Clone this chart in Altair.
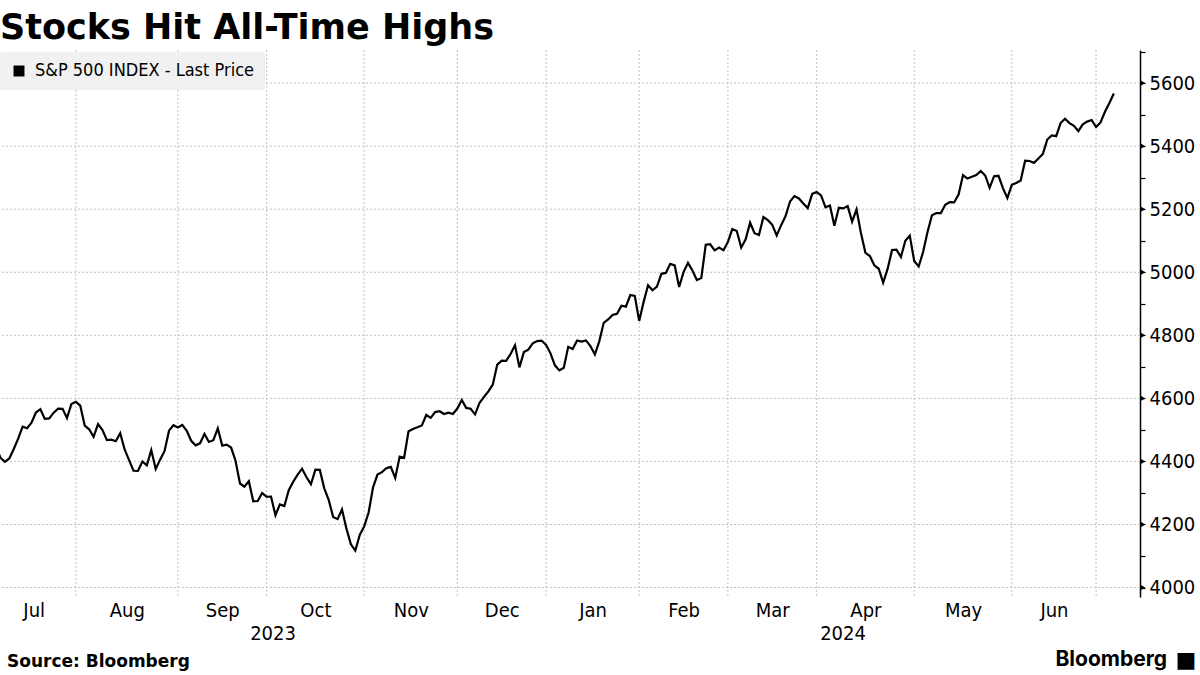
import altair as alt
import pandas as pd

# ---- data (S&P 500 daily closes, trading days only) ----
month_names = ["Jul", "Aug", "Sep", "Oct", "Nov", "Dec", "Jan", "Feb", "Mar", "Apr", "May", "Jun", "Jul"]
month_years = [2023, 2023, 2023, 2023, 2023, 2023, 2024, 2024, 2024, 2024, 2024, 2024, 2024]

close_2023_07 = [4446.82, 4411.59, 4398.95, 4409.53, 4439.26, 4472.16, 4510.04, 4505.42, 4522.79, 4554.98,
                 4565.72, 4534.87, 4536.34, 4554.64, 4567.46, 4566.75, 4537.41, 4582.23, 4588.96]
close_2023_08 = [4576.73, 4513.39, 4501.89, 4478.03, 4518.44, 4499.38, 4467.71, 4468.83, 4464.05, 4489.72,
                 4437.86, 4404.33, 4370.36, 4369.71, 4399.77, 4387.55, 4436.01, 4376.31, 4405.71, 4433.31,
                 4497.63, 4514.87, 4507.66]
close_2023_09 = [4515.77, 4496.83, 4465.48, 4451.14, 4457.49, 4487.46, 4461.90, 4467.44, 4505.10, 4450.32,
                 4453.53, 4443.95, 4402.20, 4330.00, 4320.06, 4337.44, 4273.53, 4274.51, 4299.70, 4288.05]
close_2023_10 = [4288.39, 4229.45, 4263.75, 4258.19, 4308.50, 4335.66, 4358.24, 4376.95, 4349.61, 4327.78,
                 4373.63, 4373.20, 4314.60, 4278.00, 4224.16, 4217.04, 4247.68, 4186.77, 4137.23, 4117.37,
                 4166.82, 4193.80]
close_2023_11 = [4237.86, 4317.78, 4358.34, 4365.98, 4378.38, 4382.78, 4347.35, 4415.24, 4411.55, 4495.70,
                 4502.88, 4508.24, 4514.02, 4547.38, 4538.19, 4556.62, 4559.34, 4550.43, 4554.89, 4550.58,
                 4567.80]
close_2023_12 = [4594.63, 4569.78, 4567.18, 4549.34, 4585.59, 4604.37, 4622.44, 4643.70, 4707.09, 4719.55,
                 4719.19, 4740.56, 4768.37, 4698.35, 4746.75, 4754.63, 4774.75, 4781.58, 4783.35, 4769.83]
close_2024_01 = [4742.83, 4704.81, 4688.68, 4697.24, 4763.54, 4756.50, 4783.45, 4780.24, 4783.83, 4765.98,
                 4739.21, 4780.94, 4839.81, 4850.43, 4864.60, 4868.55, 4894.16, 4890.97, 4927.93, 4924.97,
                 4845.65]
close_2024_02 = [4906.19, 4958.61, 4942.81, 4954.23, 4995.06, 4997.91, 5026.61, 5021.84, 4953.17, 5000.62,
                 5029.73, 5005.57, 4975.51, 4981.80, 5087.03, 5088.80, 5069.53, 5078.18, 5069.76, 5096.27]
close_2024_03 = [5137.08, 5130.95, 5078.65, 5104.76, 5157.36, 5123.69, 5117.94, 5175.27, 5165.31, 5150.48,
                 5117.09, 5149.42, 5178.51, 5224.62, 5241.53, 5234.18, 5218.19, 5203.58, 5248.49, 5254.35]
close_2024_04 = [5243.77, 5205.81, 5211.49, 5147.21, 5204.34, 5202.39, 5209.91, 5160.64, 5199.06, 5123.41,
                 5061.82, 5051.41, 5022.21, 5011.12, 4967.23, 5010.60, 5070.55, 5071.63, 5048.42, 5099.96,
                 5116.17, 5035.69]
close_2024_05 = [5018.39, 5064.20, 5127.79, 5180.74, 5187.70, 5187.67, 5214.08, 5222.68, 5221.42, 5246.68,
                 5308.15, 5297.10, 5303.27, 5308.13, 5321.41, 5307.01, 5267.84, 5304.72, 5306.04, 5266.95,
                 5235.48, 5277.51]
close_2024_06 = [5283.40, 5291.34, 5354.03, 5352.96, 5346.99, 5360.79, 5375.32, 5421.03, 5433.74, 5431.60,
                 5473.23, 5487.03, 5473.17, 5464.62, 5447.87, 5469.30, 5477.90, 5482.87, 5460.48]
close_2024_07 = [5475.09, 5509.01, 5537.02, 5567.19]

monthly_closes = [close_2023_07, close_2023_08, close_2023_09, close_2023_10, close_2023_11, close_2023_12,
                  close_2024_01, close_2024_02, close_2024_03, close_2024_04, close_2024_05, close_2024_06,
                  close_2024_07]

series_name = "S&P 500 INDEX - Last Price"
y_ticks = [4000, 4100, 4200, 4300, 4400, 4500, 4600, 4700, 4800, 4900, 5000, 5100, 5200, 5300, 5400, 5500, 5600, 5700]
y_grid = [4000, 4200, 4400, 4600, 4800, 5000, 5200, 5400, 5600]
year_names = ["2023", "2024"]

# ---- build tables (trading-day index axis, as Bloomberg does) ----
rows, months = [], []
idx = 0
for name, yr, vals in zip(month_names, month_years, monthly_closes):
    first = idx
    for v in vals:
        rows.append({"i": idx, "close": v, "series": series_name})
        idx += 1
    months.append({"name": name, "year": yr, "first": first, "last": idx - 1})
df = pd.DataFrame(rows)

X_MIN, X_MAX = 0.9, 257.9
boundaries = pd.DataFrame({"i": [m["last"] for m in months[:-1]]})
label_pos = [(m["first"] - 1 + m["last"]) / 2 for m in months[:-1]]
label_expr = " : ".join(f"datum.value == {p} ? '{m['name']}'" for p, m in zip(label_pos, months[:-1])) + " : ''"

end_2023 = max(m["last"] for m in months if m["year"] == 2023)
years_df = pd.DataFrame({"pos": [(X_MIN + end_2023) / 2, (end_2023 + X_MAX) / 2], "year": year_names})

W, H = 1140, 547
LABEL_FONT = "DejaVu Sans Condensed"
xscale = alt.Scale(domain=[X_MIN, X_MAX], nice=False, zero=False)
yscale = alt.Scale(domain=[3970, 5705], nice=False, zero=False)

xaxis = alt.Axis(
    values=label_pos, labelExpr=label_expr, grid=False, ticks=False, domain=False,
    labelFont=LABEL_FONT, labelFontSize=20, labelColor="black", labelPadding=3,
    labelFlush=False, labelOverlap=False, title=None)
yaxis = alt.Axis(
    orient="right", values=y_ticks, format="d",
    labelExpr="datum.value % 200 == 0 && datum.value < 5700 ? datum.label : ''",
    grid=False, domainColor="black", domainWidth=1.5, tickColor="black", tickSize=5,
    tickWidth=1.2, labelFont=LABEL_FONT, labelFontSize=20, labelColor="black",
    labelPadding=4, labelBaseline="middle", title=None)

hgrid = alt.Chart(pd.DataFrame({"v": y_grid})).mark_rule(
    color="#c2c2c2", strokeDash=[2, 2], strokeWidth=1
).encode(y=alt.Y("v:Q", scale=yscale, axis=yaxis))

vgrid = alt.Chart(boundaries).mark_rule(
    color="#c2c2c2", strokeDash=[2, 2], strokeWidth=1
).encode(x=alt.X("i:Q", scale=xscale, axis=xaxis))

markers = alt.Chart(pd.DataFrame({"v": y_grid})).mark_point(
    shape="triangle-right", filled=True, size=28, color="black", opacity=1
).encode(y=alt.Y("v:Q", scale=yscale, axis=yaxis), x=alt.value(W + 3))

line = alt.Chart(df).mark_line(color="black", strokeWidth=2.2, clip=True).encode(
    x=alt.X("i:Q", scale=xscale, axis=xaxis),
    y=alt.Y("close:Q", scale=yscale, axis=yaxis),
    color=alt.Color("series:N", scale=alt.Scale(range=["black"]), legend=alt.Legend(
        title=None, orient="none", legendX=0, legendY=2, fillColor="#f1f1f1", padding=10,
        cornerRadius=2, symbolType="square", symbolSize=120, symbolFillColor="black",
        symbolStrokeColor="black", symbolStrokeWidth=0, labelFont=LABEL_FONT,
        labelFontSize=18, labelColor="black", labelOffset=7, labelLimit=1000)),
)

years = alt.Chart(years_df).mark_text(
    font=LABEL_FONT, fontSize=20, color="black", baseline="middle", align="center"
).encode(x=alt.X("pos:Q", scale=xscale, axis=xaxis), y=alt.value(H + 37), text="year:N")

source = alt.Chart(pd.DataFrame({"t": ["Source: Bloomberg"]})).mark_text(
    font="DejaVu Sans", fontWeight="bold", fontSize=17, color="black", align="left", baseline="alphabetic"
).encode(x=alt.value(7), y=alt.value(H + 70), text="t:N")

brand = alt.Chart(pd.DataFrame({"t": ["Bloomberg"]})).mark_text(
    font="Inter", fontWeight="bold", fontSize=21, color="black", align="right", baseline="alphabetic"
).encode(x=alt.value(1167), y=alt.value(H + 69), text="t:N")

icon = alt.Chart(pd.DataFrame({"t": ["■"]})).mark_text(
    font="DejaVu Sans", fontSize=22, color="black", align="center", baseline="middle"
).encode(x=alt.value(1186), y=alt.value(H + 63), text="t:N")

chart = alt.layer(hgrid, vgrid, markers, line, years, source, brand, icon).properties(
    width=W, height=H,
    background="white",
    title=alt.TitleParams("Stocks Hit All-Time Highs", anchor="start", frame="group",
                          font="DejaVu Sans", fontSize=35, fontWeight="bold", color="black", offset=4),
    autosize=alt.AutoSizeParams(type="none"),
    padding={"left": 0, "top": 50, "right": 60, "bottom": 78},
).configure_view(strokeWidth=0, stroke="transparent")

chart.save("out.html", embed_options={"renderer": "svg", "actions": False})
